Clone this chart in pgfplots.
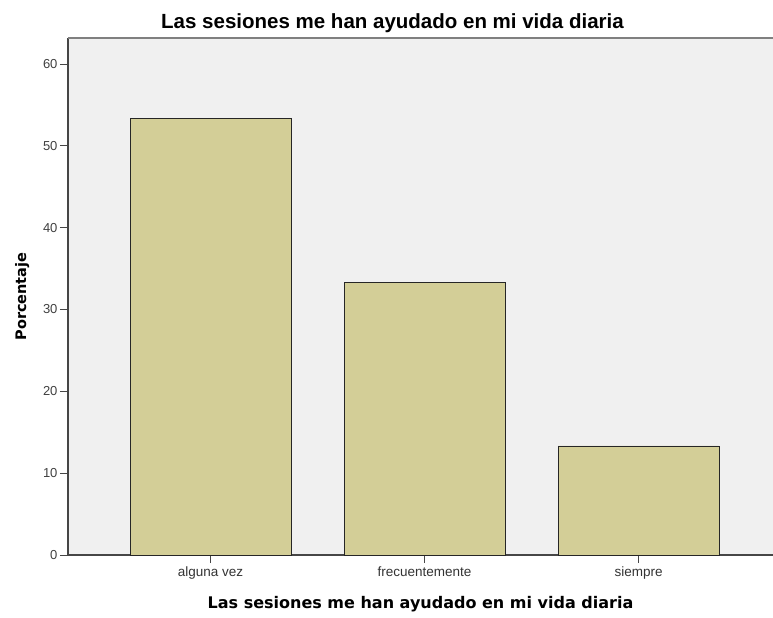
\documentclass[border=0pt]{standalone}
\usepackage{fontspec}
\setmainfont{Liberation Sans}
\newfontfamily\labelfont{DejaVu Sans}
\usepackage{pgfplots}
\pgfplotsset{compat=1.18}
\definecolor{barfill}{RGB}{211,206,151}
\definecolor{plotbg}{RGB}{240,240,240}
\definecolor{framec}{RGB}{70,70,70}

\begin{document}
\begin{tikzpicture}
\begin{axis}[
  scale only axis,
  width=705pt, height=517pt,
  xmin=-0.666, xmax=2.628,
  ymin=0, ymax=63.18,
  axis x line*=bottom,
  axis y line*=left,
  axis line style={framec, line width=1.2pt},
  axis background/.style={fill=plotbg},
  xtick={0,1,2},
  xticklabels={alguna vez, frecuentemente, siempre},
  ytick={0,10,20,30,40,50,60},
  tick align=outside,
  major tick length=8pt,
  tick style={framec, line width=1pt},
  x tick label style={font=\fontsize{13.5}{15}\selectfont, text=black!80},
  y tick label style={font=\fontsize{13}{15}\selectfont, text=black!75, xshift=1pt},
  /pgf/number format/assume math mode=true,
  xlabel={\labelfont\bfseries Las sesiones me han ayudado en mi vida diaria},
  xlabel style={font=\fontsize{16}{19}\selectfont, yshift=-10pt},
  ylabel={\labelfont\bfseries Porcentaje},
  ylabel style={font=\fontsize{14.5}{17}\selectfont, yshift=7pt},
  title={\bfseries Las sesiones me han ayudado en mi vida diaria},
  title style={font=\fontsize{20.5}{23}\selectfont, yshift=-4pt, xshift=-28pt},
  ybar,
  bar width=0.752,
  clip=false,
]
\addplot[fill=barfill, draw=black!85, line width=0.8pt] coordinates {
  (0, 53.33)
  (1, 33.33)
  (2, 13.33)
};
\draw[gray, line width=1.5pt] (rel axis cs:0,1) -- (rel axis cs:1,1);
\end{axis}
\pgfresetboundingbox
\path (current axis.south west) ++(-68pt,-62pt) coordinate (bbsw);
\path (current axis.north east) ++(0pt,38pt) coordinate (bbne);
\useasboundingbox (bbsw) rectangle (bbne);
\end{tikzpicture}
\end{document}
